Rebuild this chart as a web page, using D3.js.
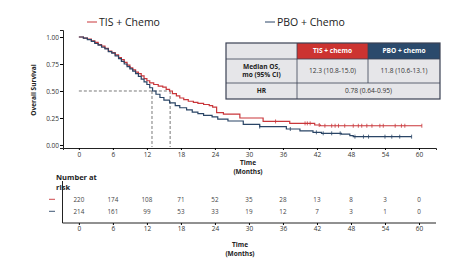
<!DOCTYPE html>
<html>
<head>
<meta charset="utf-8">
<script src="https://cdn.jsdelivr.net/npm/d3@7"></script>
<style>
  body { margin: 0; background: #fff; }
  text { font-family: "Open Sans", "Noto Sans", sans-serif; }
</style>
</head>
<body>
<div id="chart"></div>
<script>
// Kaplan-Meier steps: [months, survival]
const tisSteps = [[0,1.00],[0.8,0.99],[1.5,0.98],[2.2,0.965],[2.8,0.95],[3.4,0.93],[4.0,0.915],[4.6,0.895],
  [5.2,0.87],[5.8,0.855],[6.4,0.835],[7.0,0.81],[7.5,0.79],[8.0,0.765],[8.5,0.74],[9.0,0.715],[9.5,0.695],
  [10.0,0.675],[10.5,0.66],[11.0,0.64],[11.5,0.615],[12.0,0.595],[12.5,0.575],[13.2,0.56],[14.0,0.545],
  [14.8,0.535],[15.4,0.515],[16.0,0.5],[16.5,0.475],[17.2,0.455],[17.8,0.435],[18.5,0.42],[19.3,0.405],
  [20.2,0.395],[21.0,0.385],[22.0,0.375],[23.0,0.365],[23.6,0.35],[24.3,0.30],[25.5,0.285],[28.4,0.25],
  [32.5,0.218],[37.2,0.2],[41.6,0.185],[42.6,0.178]];
const tisEnd = 60.5;
const pboSteps = [[0,1.00],[0.8,0.99],[1.5,0.975],[2.2,0.96],[2.8,0.94],[3.4,0.925],[4.0,0.905],[4.6,0.89],
  [5.2,0.865],[5.8,0.85],[6.4,0.825],[7.0,0.80],[7.5,0.775],[8.0,0.75],[8.5,0.725],[9.0,0.705],[9.5,0.685],
  [10.0,0.66],[10.5,0.635],[11.0,0.61],[11.5,0.585],[12.0,0.56],[12.5,0.53],[13.0,0.50],[13.6,0.47],
  [14.3,0.44],[15.0,0.415],[16.0,0.39],[17.0,0.365],[17.8,0.345],[19.0,0.325],[20.0,0.305],[21.0,0.29],
  [22.0,0.275],[23.5,0.26],[24.5,0.24],[26.3,0.222],[29.0,0.19],[31.9,0.17],[36.6,0.148],[39.0,0.13],
  [41.3,0.117],[42.8,0.108],[46.3,0.10],[47.8,0.086],[48.4,0.077]];
const pboEnd = 58.7;

// censoring marks (months)
const tisCensor = [34.7,39.9,40.3,40.8,42.4,43.4,44.6,45.2,45.8,46.9,48.4,49.3,49.9,50.8,51.7,53.1,53.7,55.8,56.9,57.5,60.5];
const pboCensor = [31.9,37.3,41.9,43.1,44.6,46.1,48.7,50.2,51.1,54.0,55.2,56.6,58.7];

// dashed median guides
const medianTimes = [16.1, 12.9];

const xTicks = [0,6,12,18,24,30,36,42,48,54,60];
const yTicks = [0,0.25,0.5,0.75,1];

const riskTIS = [220,174,108,71,52,35,28,13,8,3,0];
const riskPBO = [214,161,99,53,33,19,12,7,3,1,0];

const tableHead = ["", "TIS + chemo", "PBO + chemo"];
const tableMedian = ["Median OS,|mo (95% CI)", "12.3 (10.8-15.0)", "11.8 (10.6-13.1)"];
const tableHR = ["HR", "0.78 (0.64-0.95)"];

const RED = "#c9363a", BLUE = "#2a4566";

const svg = d3.select("#chart").append("svg")
    .attr("width", 469).attr("height", 263);

const x = d3.scaleLinear().domain([-2.8, 63]).range([63, 436]);
const y = d3.scaleLinear().domain([-0.028, 1.065]).range([148, 30]);

// axes
svg.append("g")
    .attr("transform", "translate(0,148)")
    .call(d3.axisBottom(x).tickValues(xTicks).tickSize(2).tickPadding(2))
    .call(g => g.selectAll("text").style("font-size", "6.5px").attr("fill", "#333"))
    .call(g => g.select(".domain").attr("stroke", "#222"));

svg.append("g")
    .attr("transform", "translate(63,0)")
    .call(d3.axisLeft(y).tickValues(yTicks).tickFormat(d3.format(".2f")).tickSize(3).tickPadding(1))
    .call(g => g.selectAll("text").style("font-size", "6.5px").attr("fill", "#333"))
    .call(g => g.select(".domain").attr("stroke", "#222"));

svg.append("text")
    .attr("transform", "translate(36,90) rotate(-90)")
    .attr("text-anchor", "middle")
    .style("font-size", "6.5px").style("font-weight", "bold").attr("fill", "#222")
    .text("Overall Survival");

svg.append("text").attr("x", 248).attr("y", 165).attr("text-anchor", "middle")
    .style("font-size", "6.5px").style("font-weight", "bold").attr("fill", "#222").text("Time");
svg.append("text").attr("x", 248).attr("y", 173.5).attr("text-anchor", "middle")
    .style("font-size", "6.5px").style("font-weight", "bold").attr("fill", "#222").text("(Months)");

// median dashed lines
svg.append("line")
    .attr("x1", x(0)).attr("x2", x(medianTimes[0]))
    .attr("y1", y(0.5)).attr("y2", y(0.5))
    .attr("stroke", "#555").attr("stroke-width", 0.8).attr("stroke-dasharray", "3,2");
medianTimes.forEach(t => {
    svg.append("line")
        .attr("x1", x(t)).attr("x2", x(t))
        .attr("y1", y(0.5)).attr("y2", 147)
        .attr("stroke", "#555").attr("stroke-width", 0.8).attr("stroke-dasharray", "3,2");
});

// KM curves
const step = d3.line().x(d => x(d[0])).y(d => y(d[1])).curve(d3.curveStepAfter);
function drawCurve(steps, end, censor, color) {
    const pts = steps.concat([[end, steps[steps.length - 1][1]]]);
    svg.append("path").datum(pts)
        .attr("d", step)
        .attr("fill", "none").attr("stroke", color).attr("stroke-width", 1.2);
    const surv = t => {
        let v = steps[0][1];
        steps.forEach(s => { if (s[0] <= t) v = s[1]; });
        return v;
    };
    svg.selectAll(null).data(censor).enter().append("line")
        .attr("x1", d => x(d)).attr("x2", d => x(d))
        .attr("y1", d => y(surv(d)) - 2).attr("y2", d => y(surv(d)) + 2)
        .attr("stroke", color).attr("stroke-width", 0.8);
}
drawCurve(tisSteps, tisEnd, tisCensor, RED);
drawCurve(pboSteps, pboEnd, pboCensor, BLUE);

// legend
const legend = [["TIS + Chemo", RED, 87], ["PBO + Chemo", BLUE, 265]];
legend.forEach(l => {
    svg.append("line").attr("x1", l[2]).attr("x2", l[2] + 10).attr("y1", 22).attr("y2", 22)
        .attr("stroke", l[1]).attr("stroke-width", 1);
    svg.append("text").attr("x", l[2] + 12).attr("y", 26)
        .style("font-size", "10.5px").attr("fill", "#222").text(l[0]);
});

// summary table
const tx = [226, 297, 368, 440], ty = [43, 59, 83, 99];
svg.append("rect").attr("x", tx[0]).attr("y", ty[0]).attr("width", tx[3] - tx[0]).attr("height", ty[3] - ty[0])
    .attr("fill", "#e6e6e9");
svg.append("rect").attr("x", tx[1]).attr("y", ty[0]).attr("width", tx[2] - tx[1]).attr("height", ty[1] - ty[0]).attr("fill", "#cc3431");
svg.append("rect").attr("x", tx[2]).attr("y", ty[0]).attr("width", tx[3] - tx[2]).attr("height", ty[1] - ty[0]).attr("fill", "#2b4a6c");
const bc = "#3b4254";
svg.append("rect").attr("x", tx[0]).attr("y", ty[0]).attr("width", tx[3] - tx[0]).attr("height", ty[3] - ty[0])
    .attr("fill", "none").attr("stroke", bc).attr("stroke-width", 1.2);
[ty[1], ty[2]].forEach(yy => svg.append("line").attr("x1", tx[0]).attr("x2", tx[3]).attr("y1", yy).attr("y2", yy)
    .attr("stroke", bc).attr("stroke-width", 0.8));
svg.append("line").attr("x1", tx[1]).attr("x2", tx[1]).attr("y1", ty[0]).attr("y2", ty[3]).attr("stroke", bc).attr("stroke-width", 0.8);
svg.append("line").attr("x1", tx[2]).attr("x2", tx[2]).attr("y1", ty[0]).attr("y2", ty[2]).attr("stroke", bc).attr("stroke-width", 0.8);

function cellText(cx, cy, str, opts) {
    const lines = str.split("|");
    const t = svg.append("text").attr("text-anchor", "middle")
        .style("font-size", "6.6px").attr("fill", opts.fill || "#333")
        .style("font-weight", opts.bold ? "bold" : "normal");
    lines.forEach((s, i) => {
        t.append("tspan").attr("x", cx)
            .attr("y", cy + 2.3 + (i - (lines.length - 1) / 2) * 8).text(s);
    });
}
cellText((tx[1] + tx[2]) / 2, (ty[0] + ty[1]) / 2, tableHead[1], { fill: "#fff", bold: true });
cellText((tx[2] + tx[3]) / 2, (ty[0] + ty[1]) / 2, tableHead[2], { fill: "#fff", bold: true });
cellText((tx[0] + tx[1]) / 2, (ty[1] + ty[2]) / 2, tableMedian[0], { fill: "#222", bold: true });
cellText((tx[1] + tx[2]) / 2, (ty[1] + ty[2]) / 2, tableMedian[1], {});
cellText((tx[2] + tx[3]) / 2, (ty[1] + ty[2]) / 2, tableMedian[2], {});
cellText((tx[0] + tx[1]) / 2, (ty[2] + ty[3]) / 2, tableHR[0], { fill: "#222", bold: true });
cellText((tx[1] + tx[3]) / 2, (ty[2] + ty[3]) / 2, tableHR[1], {});

// number at risk
svg.append("text").attr("x", 56).attr("y", 179.5)
    .style("font-size", "7.5px").style("font-weight", "bold").attr("fill", "#222").text("Number at");
svg.append("text").attr("x", 56).attr("y", 189.5)
    .style("font-size", "7.5px").style("font-weight", "bold").attr("fill", "#222").text("risk");

svg.append("line").attr("x1", 62.5).attr("x2", 62.5).attr("y1", 181).attr("y2", 223).attr("stroke", "#222");
svg.append("g")
    .attr("transform", "translate(0,223)")
    .call(d3.axisBottom(x).tickValues(xTicks).tickSize(2).tickPadding(1.5))
    .call(g => g.selectAll("text").style("font-size", "6.5px").attr("fill", "#333"))
    .call(g => g.select(".domain").attr("stroke", "#222").attr("d", "M62.5,0H436"));

[[riskTIS, RED, 201.5], [riskPBO, BLUE, 213.5]].forEach(r => {
    svg.append("line").attr("x1", 49).attr("x2", 55).attr("y1", r[2] - 2.2).attr("y2", r[2] - 2.2)
        .attr("stroke", r[1]).attr("stroke-width", 0.9);
    svg.selectAll(null).data(r[0]).enter().append("text")
        .attr("x", (d, i) => x(xTicks[i])).attr("y", r[2])
        .attr("text-anchor", "middle")
        .style("font-size", "6.3px").attr("fill", "#444")
        .text(d => d);
});

svg.append("text").attr("x", 240).attr("y", 246.5).attr("text-anchor", "middle")
    .style("font-size", "6.5px").style("font-weight", "bold").attr("fill", "#222").text("Time");
svg.append("text").attr("x", 240).attr("y", 255.5).attr("text-anchor", "middle")
    .style("font-size", "6.5px").style("font-weight", "bold").attr("fill", "#222").text("(Months)");
</script>
</body>
</html>
